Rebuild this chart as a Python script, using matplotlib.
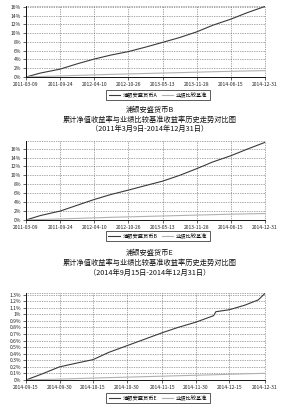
import matplotlib
matplotlib.use("Agg")
import matplotlib.pyplot as plt
import pandas as pd
import numpy as np

plt.rcParams['font.family'] = ['Noto Sans CJK SC', 'DejaVu Sans']

# ---- data ----
dates_ab = ['2011-03-09', '2011-06-01', '2011-09-24', '2012-01-01', '2012-04-10',
            '2012-07-15', '2012-10-26', '2013-02-01', '2013-05-13', '2013-08-20',
            '2013-11-28', '2014-03-01', '2014-06-15', '2014-09-20', '2014-12-31']
fund_a = [0, 0.9, 1.8, 3.0, 4.1, 5.0, 5.8, 6.8, 7.9, 9.0, 10.3, 11.8, 13.2, 14.7, 16.1]
fund_b = [0, 1.0, 2.0, 3.3, 4.6, 5.7, 6.7, 7.7, 8.7, 10.0, 11.5, 13.0, 14.4, 15.9, 17.4]
bench_ab = [0, 0.11, 0.24, 0.36, 0.48, 0.6, 0.7, 0.8, 0.9, 1.0, 1.1, 1.2, 1.3, 1.38, 1.45]
ticks_ab = ['2011-03-09', '2011-09-24', '2012-04-10', '2012-10-26', '2013-05-13',
            '2013-11-28', '2014-06-15', '2014-12-31']

dates_e = ['2014-09-15', '2014-09-22', '2014-09-30', '2014-10-08', '2014-10-15',
           '2014-10-22', '2014-10-30', '2014-11-07', '2014-11-15', '2014-11-22',
           '2014-11-30', '2014-12-08', '2014-12-09', '2014-12-15', '2014-12-22',
           '2014-12-28', '2014-12-31']
fund_e = [0, 0.09, 0.2, 0.26, 0.31, 0.42, 0.52, 0.62, 0.72, 0.80, 0.88, 0.98, 1.04,
          1.07, 1.14, 1.22, 1.32]
bench_e = [0, 0.007, 0.014, 0.022, 0.029, 0.036, 0.043, 0.051, 0.058, 0.065, 0.072,
           0.080, 0.081, 0.087, 0.094, 0.099, 0.102]
ticks_e = ['2014-09-15', '2014-09-30', '2014-10-15', '2014-10-30', '2014-11-15',
           '2014-11-30', '2014-12-15', '2014-12-31']

name_a = '浦银安盛货币A'
name_b = '浦银安盛货币B'
name_e = '浦银安盛货币E'
bench_name = '业绩比较基准'
title_mid = '累计净值收益率与业绩比较基准收益率历史走势对比图'
period_ab = '（2011年3月9日-2014年12月31日）'
period_e = '（2014年9月15日-2014年12月31日）'

W, H = 300, 411
fig = plt.figure(figsize=(W / 100, H / 100), dpi=100)
fig.patch.set_facecolor('white')

FUND_C = '#3a3a3a'
BENCH_C = '#b0b0b0'


def px_axes(left, top, right, bottom):
    return fig.add_axes([left / W, 1 - bottom / H, (right - left) / W, (bottom - top) / H])


def draw(ax, dates, fund, bench, ticks, yticks, ylabels, ymax, fname, leg_y):
    x0 = pd.Timestamp(dates[0])
    xs = [(pd.Timestamp(d) - x0).days for d in dates]
    tx = [(pd.Timestamp(d) - x0).days for d in ticks]
    l1, = ax.plot(xs, fund, color=FUND_C, lw=0.8)
    l2, = ax.plot(xs, bench, color=BENCH_C, lw=0.8)
    ax.set_xlim(tx[0], tx[-1])
    ax.set_ylim(0, ymax)
    ax.set_xticks(tx)
    ax.set_xticklabels(ticks, fontsize=3.6, color='#222')
    ax.set_yticks(yticks)
    ax.set_yticklabels(ylabels, fontsize=3.6, color='#222')
    ax.tick_params(length=2, width=0.5, pad=1.5, colors='#222')
    ax.grid(True, color='#555', ls=(0, (1, 1.5)), lw=0.5)
    for s in ['top', 'right']:
        ax.spines[s].set_visible(False)
    for s in ['left', 'bottom']:
        ax.spines[s].set_linewidth(0.7)
        ax.spines[s].set_color('#111')
    ax.axhline(ymax, color='#555', ls=(0, (1, 1.5)), lw=0.5, clip_on=False)
    ax.axvline(tx[-1], color='#555', ls=(0, (1, 1.5)), lw=0.5, clip_on=False)
    leg = fig.legend([l1, l2], [fname, bench_name], loc='center',
                     bbox_to_anchor=(158 / W, 1 - leg_y / H), ncol=2, fontsize=3.8,
                     frameon=True, fancybox=False, edgecolor='#111', handlelength=2.2,
                     handletextpad=0.5, columnspacing=0.8, borderpad=0.4,
                     shadow=False)
    leg.get_frame().set_linewidth(0.6)
    return ax


yt_ab = [0, 2, 4, 6, 8, 10, 12, 14, 16]
yl_ab = ['%d%%' % v for v in yt_ab]

ax1 = px_axes(26, 6, 265, 77)
draw(ax1, dates_ab, fund_a, bench_ab, ticks_ab, yt_ab, yl_ab, 16.2, name_a, 95)

ax2 = px_axes(26, 141, 265, 220)
draw(ax2, dates_ab, fund_b, bench_ab, ticks_ab, yt_ab, yl_ab, 17.7, name_b, 236)

yt_e = [round(0.1 * i, 1) for i in range(14)]
yl_e = [('%g%%' % v) for v in yt_e]
ax3 = px_axes(26, 293, 265, 380)
draw(ax3, dates_e, fund_e, bench_e, ticks_e, yt_e, yl_e, 1.325, name_e, 398)

for y, txt in [(110, name_b), (120, title_mid), (129, period_ab),
               (253, name_e), (263, title_mid), (273, period_e)]:
    fig.text(150 / W, 1 - y / H, txt, ha='center', va='center', fontsize=5.2, color='#111')

fig.savefig('out.png', dpi=100, facecolor='white')
